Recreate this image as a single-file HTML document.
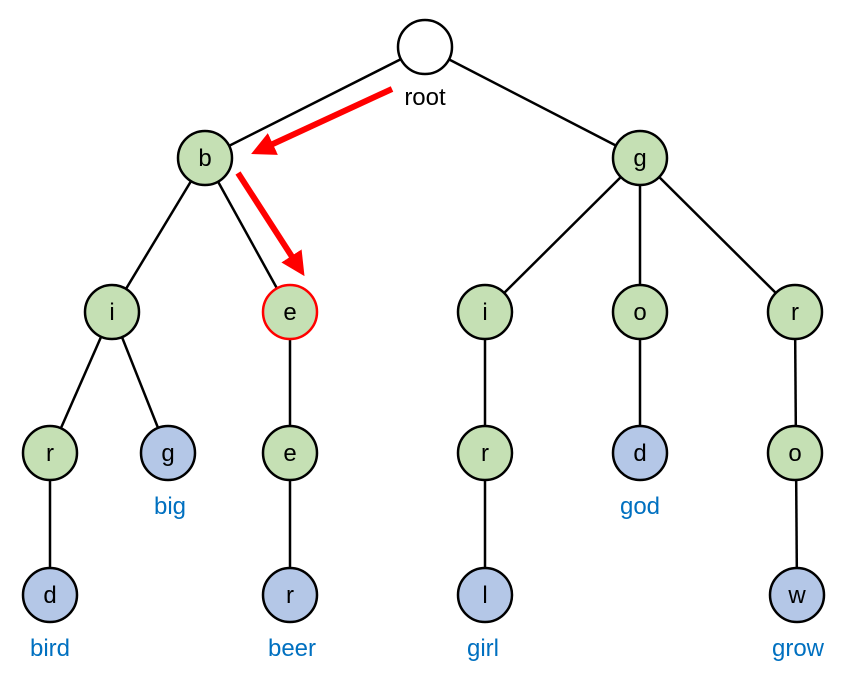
<!DOCTYPE html>
<html><head><style>body{margin:0;background:#fff}</style></head><body>
<svg width="853" height="675" xmlns="http://www.w3.org/2000/svg" font-family="Liberation Sans, sans-serif">
<defs><marker id="a" markerWidth="4" markerHeight="4" refX="2" refY="2" orient="auto" markerUnits="strokeWidth"><path d="M0,0L4,2L0,4z" fill="#f00"/></marker></defs>
<g stroke="#000" stroke-width="2.5">
<line x1="425" y1="47" x2="205" y2="158"/><line x1="425" y1="47" x2="640" y2="158"/>
<line x1="205" y1="158" x2="112" y2="312"/><line x1="205" y1="158" x2="290" y2="312"/>
<line x1="640" y1="158" x2="485" y2="312"/><line x1="640" y1="158" x2="640" y2="312"/><line x1="640" y1="158" x2="795" y2="312"/>
<line x1="112" y1="312" x2="50" y2="453"/><line x1="112" y1="312" x2="168" y2="453"/>
<line x1="290" y1="312" x2="290" y2="595"/><line x1="485" y1="312" x2="485" y2="595"/>
<line x1="640" y1="312" x2="640" y2="453"/><line x1="795" y1="312" x2="797" y2="595"/>
<line x1="50" y1="453" x2="50" y2="595"/>
</g>
<g stroke="#f00" stroke-width="6" fill="none">
<line x1="392" y1="89" x2="262" y2="149" marker-end="url(#a)"/>
<line x1="238" y1="173" x2="298" y2="266" marker-end="url(#a)"/>
</g>
<g stroke="#000" stroke-width="2.5">
<circle cx="425" cy="47" r="27" fill="#fff"/>
<g fill="#c5e0b4">
<circle cx="205" cy="158" r="27"/><circle cx="640" cy="158" r="27"/>
<circle cx="112" cy="312" r="27"/><circle cx="485" cy="312" r="27"/><circle cx="640" cy="312" r="27"/><circle cx="795" cy="312" r="27"/>
<circle cx="50" cy="453" r="27"/><circle cx="290" cy="453" r="27"/><circle cx="485" cy="453" r="27"/><circle cx="795" cy="453" r="27"/>
</g>
<circle cx="290" cy="312" r="27" fill="#c5e0b4" stroke="#f00"/>
<g fill="#b4c7e7">
<circle cx="168" cy="453" r="27"/><circle cx="640" cy="453" r="27"/>
<circle cx="50" cy="595" r="27"/><circle cx="290" cy="595" r="27"/><circle cx="485" cy="595" r="27"/><circle cx="797" cy="595" r="27"/>
</g>
</g>
<g font-size="24" text-anchor="middle" fill="#000">
<text x="205" y="166">b</text><text x="640" y="166">g</text>
<text x="112" y="320">i</text><text x="290" y="320">e</text><text x="485" y="320">i</text><text x="640" y="320">o</text><text x="795" y="320">r</text>
<text x="50" y="461">r</text><text x="168" y="461">g</text><text x="290" y="461">e</text><text x="485" y="461">r</text><text x="640" y="461">d</text><text x="795" y="461">o</text>
<text x="50" y="603">d</text><text x="290" y="603">r</text><text x="485" y="603">l</text><text x="797" y="603">w</text>
<text x="425" y="105">root</text>
</g>
<g font-size="24" text-anchor="middle" fill="#0070c0">
<text x="170" y="514">big</text><text x="640" y="514">god</text>
<text x="50" y="656">bird</text><text x="292" y="656">beer</text><text x="483" y="656">girl</text><text x="798" y="656">grow</text>
</g>
</svg>
</body></html>
